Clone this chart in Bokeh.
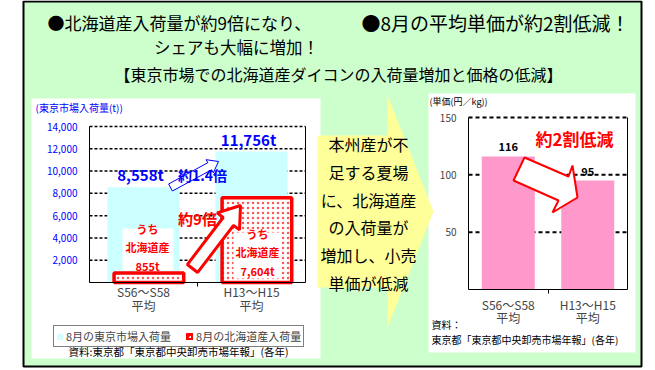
import math
from bokeh.plotting import figure
from bokeh.models import (Range1d, LinearAxis, FixedTicker, NumeralTickFormatter,
                          Legend, LegendItem)
from bokeh.core.properties import value
from bokeh.embed import file_html
from bokeh.resources import INLINE

# ---------------- data ----------------
periods = ["S56～S58", "H13～H15"]
period_note = ["平均", "平均"]
tokyo_total = [8558, 11756]        # 8月の東京市場入荷量 (t)
hokkaido = [855, 7604]             # 8月の北海道産入荷量 (t)
unit_price = [116, 95]             # 8月の平均単価 (円/kg)
load_ticks = [2000, 4000, 6000, 8000, 10000, 12000, 14000]
price_ticks = [50, 100, 150]

title_left = ["●北海道産入荷量が約9倍になり、", "シェアも大幅に増加！"]
title_right = "●8月の平均単価が約2割低減！"
subtitle = "【東京市場での北海道産ダイコンの入荷量増加と価格の低減】"
note = "本州産が不\n足する夏場\nに、北海道産\nの入荷量が\n増加し、小売\n単価が低減"
load_growth = "約1.4倍"
hk_growth = "約9倍"
price_drop = "約2割低減"
legend_labels = ["8月の東京市場入荷量", "8月の北海道産入荷量"]
load_axis_title = "(東京市場入荷量(t))"
price_axis_title = "(単価(円／kg))"
source_left = "資料:東京都「東京都中央卸売市場年報」(各年)"
source_right = ["資料：", "東京都「東京都中央卸売市場年報」(各年)"]

# ---------------- layout ----------------
W, H = 655, 370
OX, OY = 0, 0
JP = "Noto Sans CJK JP"
GREEN = "#ccffcc"
CYAN = "#ccffff"
PINK = "#ff99cc"
RED = "#ff0000"
BLUE = "#0000ff"
YELLOW = "#ffff99"


def xr(v0, s0, v1, s1):
    k = (v1 - v0) / (s1 - s0)
    return Range1d(v0 + (OX - s0) * k, v0 + (OX + W - s0) * k)


def yr(v0, s0, v1, s1):
    k = (v1 - v0) / (s1 - s0)
    return Range1d(v0 + (OY + H - s0) * k, v0 + (OY - s0) * k)


p = figure(width=W, height=H, x_range=Range1d(OX, OX + W), y_range=Range1d(OY + H, OY),
           output_backend="svg", toolbar_location=None, x_axis_type=None, y_axis_type=None,
           min_border=0, title=None)
p.outline_line_color = None
p.background_fill_color = "white"
p.border_fill_color = "white"

# chart scales: left chart plot area x 89..305, y 282(0)..126(14000)
p.extra_x_ranges = {"lx": xr(0, 89, 2, 305), "rx": xr(0, 468, 2, 627)}
p.extra_y_ranges = {"ly": yr(0, 282, 14000, 126), "ry": yr(0, 289, 150, 117)}
L = dict(x_range_name="lx", y_range_name="ly")
R = dict(x_range_name="rx", y_range_name="ry")


def T(x, y, txt, size, color="black", align="left", baseline="middle", bold=False, lh=1.2, **kw):
    return p.text(x=x if isinstance(x, list) else [x], y=y if isinstance(y, list) else [y],
                  text=txt if isinstance(txt, list) else [txt],
                  text_font=value(JP), text_font_size=f"{size}px", text_color=color,
                  text_align=align, text_baseline=baseline,
                  text_font_style="bold" if bold else "normal", text_line_height=lh, **kw)


def block_arrow(x0, y0, x1, y1, bw, hw, hl):
    dx, dy = x1 - x0, y1 - y0
    ln = math.hypot(dx, dy)
    ux, uy = dx / ln, dy / ln
    nx, ny = -uy, ux
    bx, by = x1 - ux * hl, y1 - uy * hl
    pts = [(x0 + nx * bw / 2, y0 + ny * bw / 2), (bx + nx * bw / 2, by + ny * bw / 2),
           (bx + nx * hw / 2, by + ny * hw / 2), (x1, y1),
           (bx - nx * hw / 2, by - ny * hw / 2), (bx - nx * bw / 2, by - ny * bw / 2),
           (x0 - nx * bw / 2, y0 - ny * bw / 2)]
    return [a for a, b in pts], [b for a, b in pts]


def category_axes(rn, labels, notes, standoff1, standoff2):
    xr_name, yr_name = rn["x_range_name"], rn["y_range_name"]
    a1 = LinearAxis(x_range_name=xr_name, y_range_name=yr_name, fixed_location=0, bounds=(0, 2),
                    ticker=FixedTicker(ticks=[0.5, 1.5], minor_ticks=[1.0]),
                    major_label_overrides={0.5: labels[0], 1.5: labels[1]},
                    major_tick_line_color=None, minor_tick_out=4, minor_tick_in=0,
                    major_label_standoff=standoff1, major_label_text_font=JP,
                    major_label_text_font_size="12px", axis_line_color="black")
    a2 = LinearAxis(x_range_name=xr_name, y_range_name=yr_name, fixed_location=0, bounds=(0, 2),
                    ticker=FixedTicker(ticks=[0.5, 1.5]),
                    major_label_overrides={0.5: notes[0], 1.5: notes[1]},
                    major_tick_line_color=None, minor_tick_line_color=None,
                    axis_line_color=None, major_label_standoff=standoff2,
                    major_label_text_font=JP, major_label_text_font_size="12px")
    p.add_layout(a1, "below")
    p.add_layout(a2, "below")


# ---------------- background ----------------
p.quad(left=[23], right=[641], top=[1], bottom=[366], fill_color=GREEN,
       line_color="black", line_width=2)
p.quad(left=[31], right=[320], top=[98], bottom=[358], fill_color="white", line_color=None)
p.quad(left=[428], right=[635], top=[93], bottom=[352], fill_color="white", line_color=None)
yx = [317, 387, 387, 433, 387, 387, 317]
yy = [135, 135, 95, 211, 327, 287, 287]
p.patch(yx, yy, fill_color=YELLOW, line_color=None)

# titles
T(47, 22, title_left[0], 17)
T(236, 46, title_left[1], 16.5, align="center")
T(629, 22, title_right, 19, align="right")
T(338, 73, subtitle, 16, align="center")
T(368, 213, note, 16, align="center", lh=1.16)

# ---------------- left chart ----------------
T(35, 107, load_axis_title, 10, color=BLUE)
p.segment(x0=[0] * len(load_ticks), x1=[2] * len(load_ticks), y0=load_ticks, y1=load_ticks,
          line_color="black", line_width=1.5, line_dash="3 2", **L)
cyan_r = p.vbar(x=[0.5, 1.5], top=tokyo_total, width=0.667, fill_color=CYAN,
                line_color=None, **L)
p.segment(x0=[2], x1=[2], y0=[0], y1=[max(load_ticks)], line_color="black", line_width=1, **L)
red_r = p.vbar(x=[0.55, 1.55], top=hokkaido, width=0.645, fill_color="white",
               hatch_pattern="dot", hatch_color="#ff5555", hatch_scale=5, hatch_weight=0.7,
               line_color=RED, line_width=3.5, **L)

lyax = LinearAxis(x_range_name="lx", y_range_name="ly", fixed_location=0,
                  bounds=(0, max(load_ticks)), ticker=FixedTicker(ticks=load_ticks),
                  formatter=NumeralTickFormatter(format="0,0"),
                  major_tick_out=0, major_tick_in=0, minor_tick_out=0, minor_tick_in=0,
                  major_label_standoff=12, major_label_text_color=BLUE,
                  major_label_text_font=JP, major_label_text_font_size="10px",
                  axis_line_color="black")
p.add_layout(lyax, "left")
category_axes(L, periods, period_note, -6, 8)

# data labels
T([0.5, 1.5], tokyo_total, [f"{v:,}t" for v in tokyo_total], 15, color=BLUE,
  align="center", baseline="bottom", bold=True, x_offset=-3, y_offset=-2, **L)

# blue growth arrow
bx_, by_ = block_arrow(170, 187, 218, 161, 8, 15, 10)
p.patch(bx_, by_, fill_color="white", line_color=BLUE, line_width=1)
T(202, 174, load_growth, 14, color=BLUE, align="center", bold=True)

# white boxes with Hokkaido values
p.quad(left=[122, 233], right=[173, 281], top=[228, 232], bottom=[270, 278],
       fill_color="white", line_color=None)
T([147, 257], [247, 252], [f"うち\n北海道産\n{v:,}t" for v in hokkaido], 11, color=RED,
  align="center", bold=True, lh=1.15)

# red big arrow
rx_, ry_ = block_arrow(192, 268, 240, 205, 13, 28, 20)
p.patch(rx_, ry_, fill_color="white", line_color=RED, line_width=3)
T(197, 218, hk_growth, 15, color=RED, align="center", bold=True)

legend = Legend(items=[LegendItem(label=legend_labels[0], renderers=[cyan_r]),
                       LegendItem(label=legend_labels[1], renderers=[red_r])],
                orientation="horizontal", location=(53 - OX, OY + H - 347),
                label_text_font=JP, label_text_font_size="11px", glyph_width=7,
                glyph_height=7, label_height=11, label_standoff=3, spacing=15, padding=2,
                margin=0, border_line_color="black", border_line_width=1,
                background_fill_color="white", background_fill_alpha=1)
p.add_layout(legend)
T(68, 351, source_left, 10.5)

# ---------------- right chart ----------------
T(429, 101, price_axis_title, 9)
p.segment(x0=[0] * len(price_ticks), x1=[2] * len(price_ticks), y0=price_ticks,
          y1=price_ticks, line_color="black", line_width=2, line_dash="4 3", **R)
p.vbar(x=[0.5, 1.5], top=unit_price, width=0.667, fill_color=PINK, line_color=None, **R)
p.segment(x0=[2], x1=[2], y0=[0], y1=[max(price_ticks)], line_color="black", line_width=1, **R)
ryax = LinearAxis(x_range_name="rx", y_range_name="ry", fixed_location=0,
                  bounds=(0, max(price_ticks)), ticker=FixedTicker(ticks=price_ticks),
                  major_tick_out=0, major_tick_in=0, minor_tick_out=0, minor_tick_in=0,
                  major_label_standoff=12, major_label_text_font=JP,
                  major_label_text_font_size="10px", axis_line_color="black")
p.add_layout(ryax, "left")
category_axes(R, periods, period_note, 0, 13)
T([0.5, 1.5], unit_price, [str(v) for v in unit_price], 11, align="center",
  baseline="bottom", bold=True, y_offset=-5, **R)
p.patch([524, 568, 572, 577, 552, 558, 513], [157, 176, 165, 197, 212, 200, 180],
        fill_color="white", line_color=RED, line_width=2)
T(574, 138, price_drop, 17, color=RED, align="center", bold=True)
T(431, 324, source_right[0], 10)
T(431, 339, source_right[1], 10)

open("out.html", "w").write(file_html(p, INLINE))
